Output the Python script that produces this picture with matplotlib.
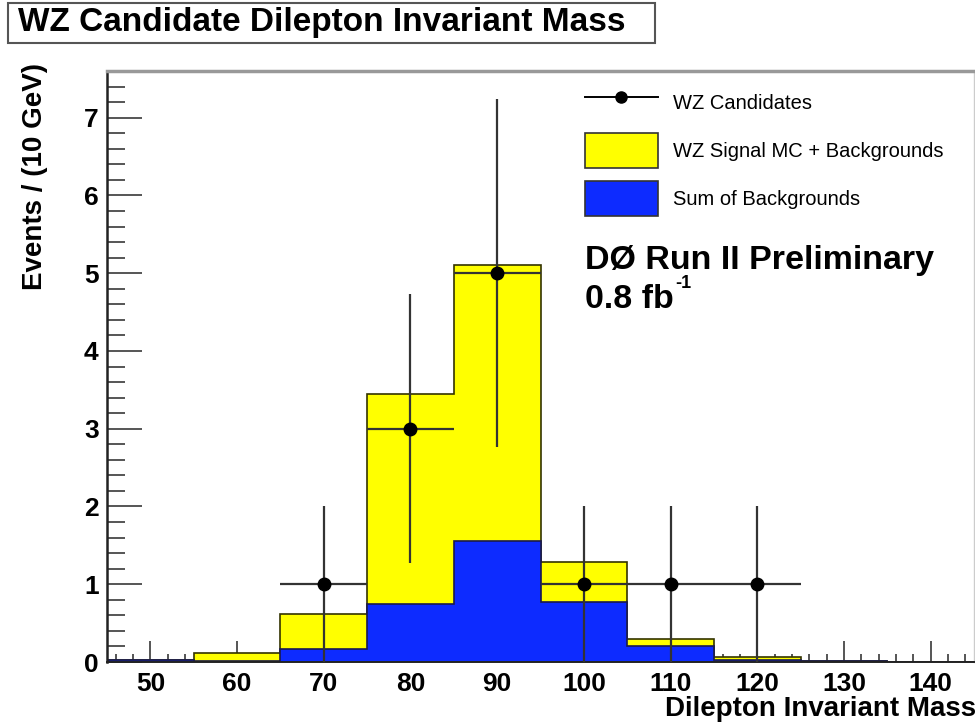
import numpy as np
import matplotlib.pyplot as plt
from matplotlib.lines import Line2D
from matplotlib.patches import Patch, Rectangle
from matplotlib.ticker import MultipleLocator

plt.rcParams['font.family'] = ['Liberation Sans', 'DejaVu Sans']

# binning: 10 GeV bins from 45 to 145
bin_edges = [45, 55, 65, 75, 85, 95, 105, 115, 125, 135, 145]

# stacked MC expectation (signal + backgrounds) and backgrounds alone
signal_plus_bkg = [0.03, 0.12, 0.62, 3.45, 5.10, 1.28, 0.29, 0.07, 0.012, 0.006]
backgrounds = [0.02, 0.01, 0.17, 0.74, 1.56, 0.77, 0.20, 0.03, 0.010, 0.005]

# observed candidates
data_mass = [70, 80, 90, 100, 110, 120]
data_counts = [1, 3, 5, 1, 1, 1]
data_err = [1.0, 1.73, 2.24, 1.0, 1.0, 1.0]
bin_half_width = 5

fig = plt.figure(figsize=(9.75, 7.24), dpi=100)
ax = fig.add_axes([107 / 975, 62 / 724, 867 / 975, 591 / 724])
ax.set_axisbelow(True)

ax.stairs(signal_plus_bkg, bin_edges, fill=True, facecolor='#ffff00',
          edgecolor='#333300', linewidth=1.2, zorder=2)
ax.stairs(backgrounds, bin_edges, fill=True, facecolor='#0d2bff',
          edgecolor='#1a1a4d', linewidth=1.2, zorder=2)

ax.errorbar(data_mass, data_counts, yerr=data_err, xerr=bin_half_width,
            fmt='o', color='black', ecolor='#333333', elinewidth=1.6,
            markersize=9, capsize=0, zorder=5)

ax.set_xlim(45, 145)
ax.set_ylim(0, 7.6)

ax.xaxis.set_major_locator(MultipleLocator(10))
ax.xaxis.set_minor_locator(MultipleLocator(2))
ax.yaxis.set_major_locator(MultipleLocator(1))
ax.yaxis.set_minor_locator(MultipleLocator(0.2))

ax.tick_params(axis='both', which='both', direction='in', color='#555555',
               width=1.4)
ax.tick_params(axis='x', which='major', length=15, pad=7, labelsize=19)
ax.tick_params(axis='x', which='minor', length=6)
ax.tick_params(axis='y', which='major', length=25, pad=6, labelsize=19)
ax.tick_params(axis='y', which='minor', length=13)
for lbl in ax.get_xticklabels() + ax.get_yticklabels():
    lbl.set_fontweight('bold')

ax.spines['left'].set_color('#222222')
ax.spines['left'].set_linewidth(1.8)
ax.spines['bottom'].set_color('#222222')
ax.spines['bottom'].set_linewidth(1.4)
ax.spines['top'].set_color('#999999')
ax.spines['top'].set_linewidth(2.5)
ax.spines['right'].set_color('#cccccc')
ax.spines['right'].set_linewidth(1.0)
for sp in ax.spines.values():
    sp.set_zorder(3)

handles = [
    Line2D([], [], color='black', marker='o', markersize=8, linewidth=1.4),
    Patch(facecolor='#ffff00', edgecolor='#333333', linewidth=1.2),
    Patch(facecolor='#0d2bff', edgecolor='#333333', linewidth=1.2),
]
labels = ['WZ Candidates', 'WZ Signal MC + Backgrounds', 'Sum of Backgrounds']
leg = ax.legend(handles, labels, loc='upper left',
                bbox_to_anchor=(569 / 975, 1 - 69 / 724),
                bbox_transform=fig.transFigure, frameon=False,
                prop={'size': 14.5}, handlelength=3.6, handleheight=2.25,
                handletextpad=0.75, labelspacing=0.68, borderpad=0.3)

# experiment label
fig.text(585 / 975, 1 - 261 / 724, 'DØ Run II Preliminary',
         fontsize=24.5, fontweight='bold', ha='left', va='center')
fig.text(585 / 975, 1 - 300 / 724, '0.8 fb',
         fontsize=24.5, fontweight='bold', ha='left', va='center')
fig.text(675 / 975, 1 - 284 / 724, '-1',
         fontsize=13, fontweight='bold', ha='left', va='center')

# title box
fig.patches.append(Rectangle((8 / 975, 1 - 43 / 724), 647 / 975, 40 / 724,
                             transform=fig.transFigure, facecolor='white',
                             edgecolor='#555555', linewidth=1.5))
fig.text(18 / 975, 1 - 23 / 724, 'WZ Candidate Dilepton Invariant Mass',
         fontsize=24, fontweight='bold', ha='left', va='center')

fig.text(35 / 975, 1 - 63 / 724, 'Events / (10 GeV)', rotation=90,
         fontsize=20, fontweight='bold', ha='center', va='top')
fig.text(976 / 975, 1 - 709 / 724, 'Dilepton Invariant Mass',
         fontsize=20, fontweight='bold', ha='right', va='center')

fig.savefig('out.png', dpi=100)
